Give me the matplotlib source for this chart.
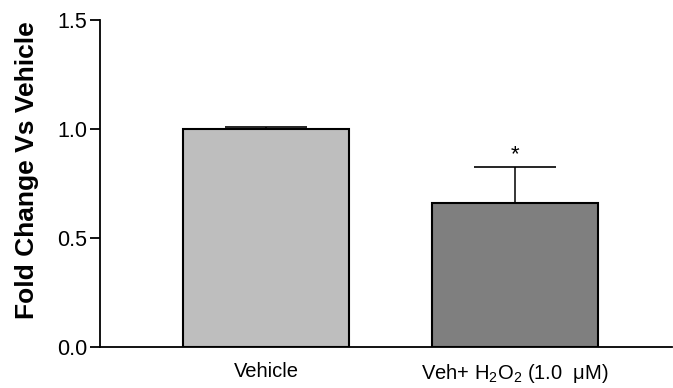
import matplotlib
matplotlib.use("Agg")
import matplotlib.pyplot as plt
import numpy as np

plt.rcParams["font.family"] = ["Liberation Sans", "DejaVu Sans"]
plt.rcParams["mathtext.default"] = "regular"

groups = ["Vehicle", "Veh+ H$_2$O$_2$ (1.0  μM)"]
fold_change = [1.0, 0.66]
sem = [0.01, 0.165]
bar_colors = ["#bebebe", "#7f7f7f"]
signif = ["", "*"]

fig = plt.figure(figsize=(6.73, 3.88), dpi=100)
ax = fig.add_axes([0.1486, 0.1057, 0.85, 0.8428])

x = np.arange(len(groups))
ax.bar(x, fold_change, width=0.667, color=bar_colors, edgecolor="black",
       linewidth=1.5, zorder=2)
ax.errorbar(x, fold_change, yerr=[np.zeros(len(sem)), sem], fmt="none",
            ecolor="black", elinewidth=1.1, capsize=29.5, capthick=1.2, zorder=1)
for xi, val, err, mark in zip(x, fold_change, sem, signif):
    if mark:
        ax.text(xi, val + err + 0.055, mark, ha="center", va="center", fontsize=16)

ax.set_xlim(-0.667, 1.63)
ax.set_ylim(0, 1.5)
ax.set_yticks([0.0, 0.5, 1.0, 1.5])
ax.set_yticklabels(["0.0", "0.5", "1.0", "1.5"], fontsize=15.5)
ax.set_xticks(x)
ax.set_xticklabels(groups, fontsize=14.5)
ax.tick_params(axis="x", length=0, pad=11)
ax.tick_params(axis="y", length=7, width=1.3, direction="out", pad=2)
ax.set_ylabel("Fold Change Vs Vehicle", fontsize=19, fontweight="bold")
ax.yaxis.set_label_coords(-0.106, 0.54)

for side in ["top", "right"]:
    ax.spines[side].set_visible(False)
for side in ["left", "bottom"]:
    ax.spines[side].set_linewidth(1.3)

fig.savefig("out.png", dpi=100)
